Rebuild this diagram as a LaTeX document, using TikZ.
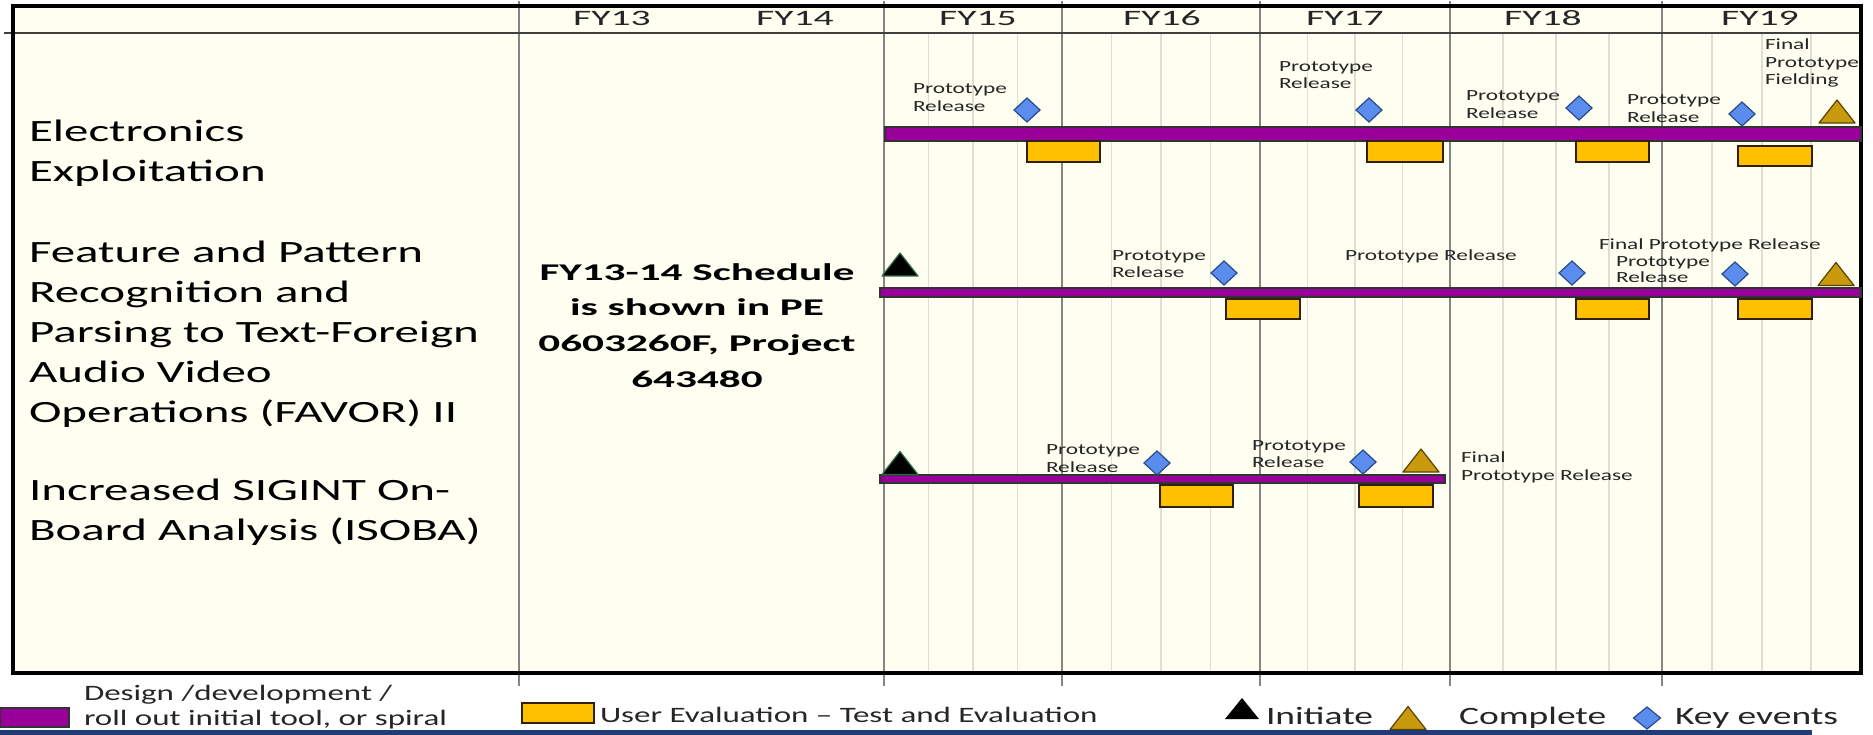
\documentclass[tikz,border=0pt]{standalone}
\usepackage{fontspec}
\setmainfont{Carlito}
% wide-set faces for the schedule
\newfontfamily\rowfont[FakeStretch=1.58]{Carlito}
\newfontfamily\yearfont[FakeStretch=1.8]{Carlito}
\newfontfamily\notefont[FakeStretch=1.8]{Carlito}
\newfontfamily\tagfont[FakeStretch=1.5]{Carlito}
\usetikzlibrary{shapes.geometric}

\definecolor{cream}{HTML}{FEFEF1}
\definecolor{barpurple}{HTML}{990099}
\definecolor{evalorange}{HTML}{FFC000}
\definecolor{keyblue}{HTML}{5B8DEF}
\definecolor{keyedge}{HTML}{2A4A8A}
\definecolor{donegold}{HTML}{C99A0E}
\definecolor{doneedge}{HTML}{5A4200}
\definecolor{startedge}{HTML}{2E6B45}
\definecolor{majorgrid}{HTML}{858585}
\definecolor{minorgrid}{HTML}{DEDED4}
\definecolor{footblue}{HTML}{1F3C78}

\tikzset{
  pics/donemark/.style={code={
    \draw[fill=donegold, draw=doneedge, line width=1.2pt, line join=round]
      (-18,11.5) -- (0,-11.5) -- (18,11.5) -- cycle;}},
  pics/startmark/.style={code={
    \draw[fill=black, draw=startedge, line width=1.2pt, line join=round]
      (-18,11.5) -- (0,-11.5) -- (18,11.5) -- cycle;}},
}

\begin{document}
\begin{tikzpicture}[x=1pt,y=-1pt,
  every node/.style={inner sep=0pt, outer sep=0pt},
  rowlabel/.style={anchor=base west, font=\rowfont\fontsize{31}{31}\selectfont, text=black},
  yearlabel/.style={anchor=base, font=\yearfont\fontsize{22}{22}\selectfont, text=black!85},
  notelabel/.style={anchor=base, font=\notefont\bfseries\fontsize{24}{24}\selectfont, text=black},
  taglabel/.style={anchor=base west, font=\tagfont\fontsize{15.5}{15.5}\selectfont, text=black!85},
  keylabel/.style={anchor=base west, font=\tagfont\fontsize{22}{22}\selectfont, text=black!85},
  keylabelbig/.style={anchor=base west, font=\tagfont\fontsize{25}{25}\selectfont, text=black!85},
  devbar/.style={fill=barpurple, draw=black!80, line width=1.2pt},
  evalbox/.style={fill=evalorange, draw=black!75!brown, line width=1.5pt},
  keyevent/.style={diamond, fill=keyblue, draw=keyedge, line width=1.2pt,
    minimum width=26pt, minimum height=24pt, inner sep=0pt},
  majorline/.style={draw=majorgrid, line width=1.4pt},
  minorline/.style={draw=minorgrid, line width=1.4pt},
]
\useasboundingbox (0,0) rectangle (1873,735);
\fill[white] (0,0) rectangle (1873,735);

% chart area
\fill[cream] (13,6) rectangle (1861,673);

% quarter lines
\foreach \x in {928.5,973,1017.5, 1111.5,1161,1210.5, 1307.5,1355,1402.5,
                1503,1556,1609, 1712,1762,1811}
  \draw[minorline] (\x,33) -- (\x,673);

% fiscal year boundaries
\foreach \x in {519,884,1062,1260,1450,1662}
  \draw[majorline] (\x,1) -- (\x,686);

% header rule and frame
\draw[draw=black!75, line width=2pt] (4,33) -- (1861,33);
\draw[black, line width=4pt] (13,6) rectangle (1861,673);

% year headings
\node[yearlabel] (fy13) at (612,26) {FY13};
\node[yearlabel] (fy14) at (795,26) {FY14};
\node[yearlabel] (fy15) at (978,26) {FY15};
\node[yearlabel] (fy16) at (1162,26) {FY16};
\node[yearlabel] (fy17) at (1345,26) {FY17};
\node[yearlabel] (fy18) at (1543,26) {FY18};
\node[yearlabel] (fy19) at (1760,26) {FY19};

% project names
\node[rowlabel] (ee1) at (29,142) {Electronics};
\node[rowlabel] (ee2) at (29,182) {Exploitation};
\node[rowlabel] (fa1) at (29,262) {Feature and Pattern};
\node[rowlabel] (fa2) at (29,302) {Recognition and};
\node[rowlabel] (fa3) at (29,342) {Parsing to Text-Foreign};
\node[rowlabel] (fa4) at (29,382) {Audio Video};
\node[rowlabel] (fa5) at (29,422) {Operations (FAVOR) II};
\node[rowlabel] (is1) at (29,500) {Increased SIGINT On-};
\node[rowlabel] (is2) at (29,540) {Board Analysis (ISOBA)};

% FY13-14 note
\node[notelabel] (note1) at (697,280) {FY13-14 Schedule};
\node[notelabel] (note2) at (697,315) {is shown in PE};
\node[notelabel] (note3) at (697,351) {0603260F, Project};
\node[notelabel] (note4) at (697,387) {643480};

% development bars
\draw[devbar] (885,127) rectangle (1861,141);
\draw[devbar] (880,288) rectangle (1861,297);
\draw[devbar] (880,475) rectangle (1445,483);

% user evaluation periods
\draw[evalbox] (1027,141) rectangle (1100,162);
\draw[evalbox] (1367,141) rectangle (1443,162);
\draw[evalbox] (1576,141) rectangle (1649,162);
\draw[evalbox] (1738,146) rectangle (1812,166);
\draw[evalbox] (1226,299) rectangle (1300,319);
\draw[evalbox] (1576,299) rectangle (1649,319);
\draw[evalbox] (1738,299) rectangle (1812,319);
\draw[evalbox] (1160,485) rectangle (1233,507);
\draw[evalbox] (1359,485) rectangle (1433,507);

% key events
\node[keyevent] (ke1) at (1027,110) {};
\node[keyevent] (ke2) at (1369,110) {};
\node[keyevent] (ke3) at (1579,108) {};
\node[keyevent] (ke4) at (1742,114) {};
\node[keyevent] (kf1) at (1224,273) {};
\node[keyevent] (kf2) at (1572,273) {};
\node[keyevent] (kf3) at (1735,274) {};
\node[keyevent] (ki1) at (1157,463) {};
\node[keyevent] (ki2) at (1363,462) {};

% initiate / complete markers
\pic at (1837,111.5) {donemark};
\pic at (900,264.5) {startmark};
\pic at (1836,274) {donemark};
\pic at (900,463) {startmark};
\pic at (1421,460.5) {donemark};

% milestone captions, Electronics Exploitation
\node[taglabel] (te1a) at (913,94) {Prototype};
\node[taglabel] (te1b) at (913,112) {Release};
\node[taglabel] (te2a) at (1279,72) {Prototype};
\node[taglabel] (te2b) at (1279,89) {Release};
\node[taglabel] (te3a) at (1466,101) {Prototype};
\node[taglabel] (te3b) at (1466,119) {Release};
\node[taglabel] (te4a) at (1627,105) {Prototype};
\node[taglabel] (te4b) at (1627,123) {Release};
\node[taglabel] (te5a) at (1765,50) {Final};
\node[taglabel] (te5b) at (1765,68) {Prototype};
\node[taglabel] (te5c) at (1765,85) {Fielding};

% milestone captions, FAVOR II
\node[taglabel] (tf1a) at (1112,261) {Prototype};
\node[taglabel] (tf1b) at (1112,278) {Release};
\node[taglabel] (tf2) at (1345,261) {Prototype Release};
\node[taglabel] (tf3) at (1599,250) {Final Prototype Release};
\node[taglabel] (tf4a) at (1616,267) {Prototype};
\node[taglabel] (tf4b) at (1616,283) {Release};

% milestone captions, ISOBA
\node[taglabel] (ti1a) at (1046,454) {Prototype};
\node[taglabel] (ti1b) at (1046,472) {Release};
\node[taglabel] (ti2a) at (1252,450) {Prototype};
\node[taglabel] (ti2b) at (1252,467) {Release};
\node[taglabel] (ti3a) at (1461,462) {Final};
\node[taglabel] (ti3b) at (1461,480) {Prototype Release};

% legend
\draw[devbar] (0,708) rectangle (69,727);
\node[keylabel] (lg1a) at (84,700) {Design /development /};
\node[keylabel] (lg1b) at (84,725) {roll out initial tool, or spiral};
\draw[evalbox] (522,703) rectangle (594,723);
\node[keylabel] (lg2) at (600,722) {User Evaluation – Test and Evaluation};
\fill[black] (1225,719) -- (1242,698) -- (1259,719) -- cycle;
\node[keylabelbig] (lg3) at (1266,724) {Initiate};
\pic at (1408,718) {donemark};
\node[keylabelbig] (lg4) at (1459,724) {Complete};
\node[keyevent, minimum width=27pt, minimum height=22pt] (lgk) at (1647,718) {};
\node[keylabelbig] (lg5) at (1675,724) {Key events};

% footer rule
\fill[footblue] (0,729.5) rectangle (1812,735);
\end{tikzpicture}
\end{document}
